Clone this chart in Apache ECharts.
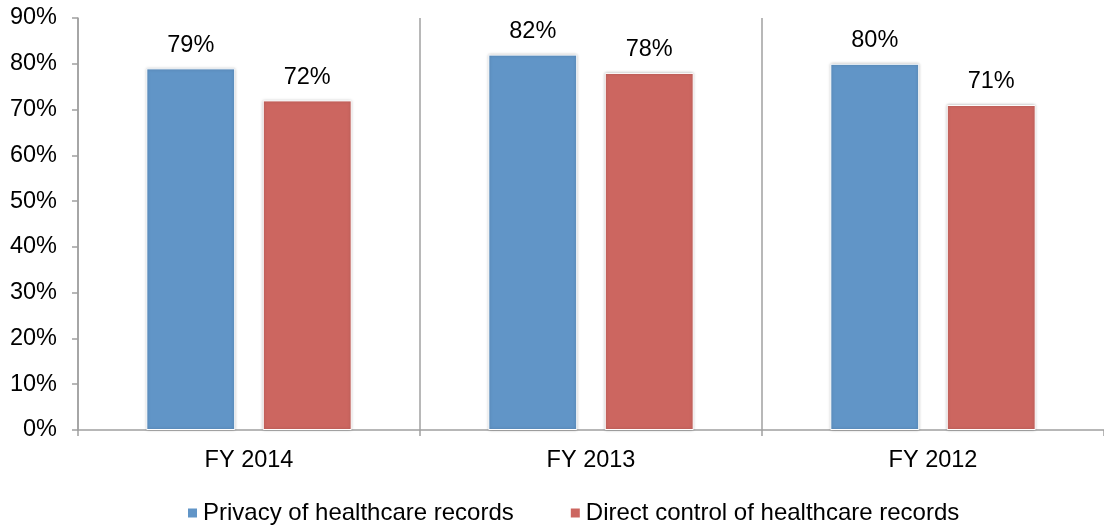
<!DOCTYPE html>
<html>
<head>
<meta charset="utf-8">
<script src="https://cdn.jsdelivr.net/npm/echarts@6/dist/echarts.min.js"></script>
<style>html,body{margin:0;padding:0;background:#fff;}#c{width:1104px;height:529px;}</style>
</head>
<body>
<div id="c"></div>
<script>
var categories = ['FY 2014', 'FY 2013', 'FY 2012'];
var seriesNames = ['Privacy of healthcare records', 'Direct control of healthcare records'];
var privacy = [79, 82, 80];
var control = [72, 78, 71];

var chart = echarts.init(document.getElementById('c'));
var font = 'Liberation Sans, Arial, sans-serif';
var axisGray = '#a0a0a0';
var fs = 23.5;
var barCommon = {
  type: 'bar',
  barWidth: '26%',
  barGap: '31%',
  label: {show: true, position: 'top', distance: 11, fontSize: fs, fontFamily: font, color: '#000', formatter: '{c}%'},
  itemStyle: {borderColor: '#fff', borderWidth: 1, shadowColor: 'rgba(0,0,0,0.25)', shadowBlur: 3},
  emphasis: {disabled: true}
};
chart.setOption({
  animation: false,
  color: ['#6195c7', '#cc6660'],
  grid: {left: 78, right: 0, top: 18, bottom: 99, containLabel: false},
  legend: {
    top: 501, left: 186, padding: 0, itemWidth: 11, itemHeight: 11, itemGap: 55,
    icon: 'rect',
    textStyle: {fontSize: 24, fontFamily: font, color: '#000'},
    data: seriesNames
  },
  xAxis: {
    type: 'category', data: categories,
    axisLine: {lineStyle: {color: axisGray, width: 1.5}},
    axisTick: {show: true, length: 6, lineStyle: {color: axisGray, width: 1.5}},
    splitLine: {show: true, lineStyle: {color: [axisGray, axisGray, axisGray, 'rgba(0,0,0,0)'], width: 1.5}},
    axisLabel: {fontSize: fs, fontFamily: font, color: '#000', margin: 19}
  },
  yAxis: {
    type: 'value', min: 0, max: 90, interval: 10,
    axisLine: {show: true, lineStyle: {color: axisGray, width: 1.5}},
    axisTick: {show: true, length: 6, lineStyle: {color: axisGray, width: 1.5}},
    splitLine: {show: false},
    axisLabel: {fontSize: fs, fontFamily: font, color: '#000', margin: 21, formatter: '{value}%'}
  },
  series: [
    Object.assign({}, barCommon, {name: seriesNames[0], data: privacy}),
    Object.assign({}, barCommon, {name: seriesNames[1], data: control})
  ]
});
</script>
</body>
</html>
